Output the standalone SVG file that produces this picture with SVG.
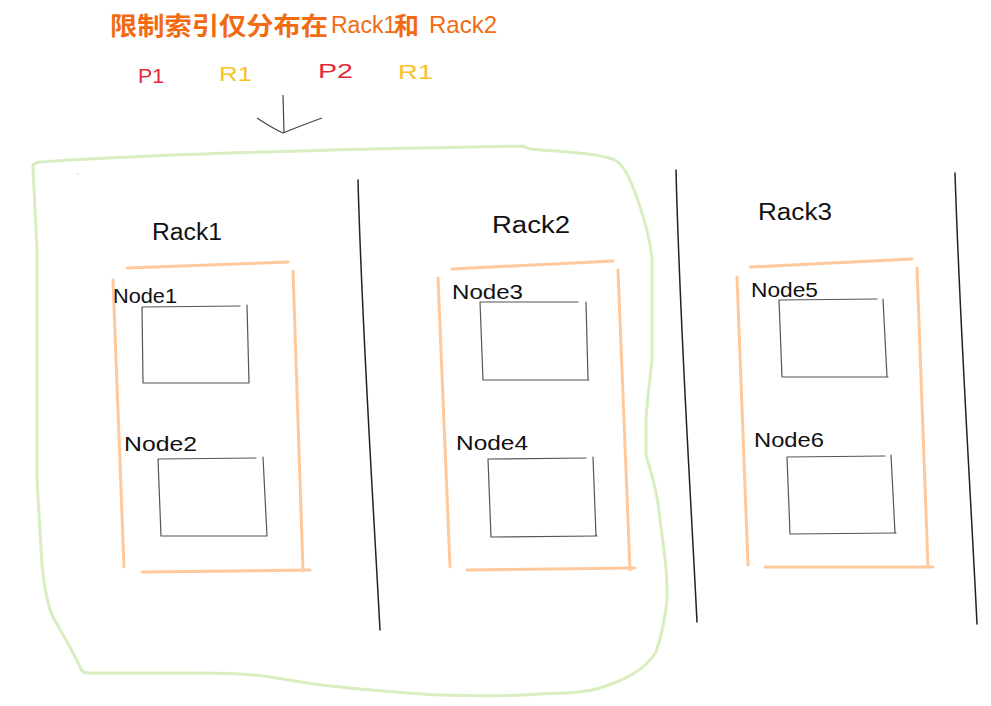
<svg xmlns="http://www.w3.org/2000/svg" width="991" height="706" viewBox="0 0 991 706">
<style>
.hand{font-family:"Liberation Sans","Noto Sans",sans-serif;fill:#111;}
.rack{stroke:#ffc393;stroke-width:3;fill:none;stroke-linecap:round;stroke-opacity:0.9}
.node{stroke:#555;stroke-width:1.2;fill:none;stroke-linecap:round}
.div{stroke:#222;stroke-width:1.5;fill:none;stroke-linecap:round}
.title{font-family:"Noto Sans CJK SC","Liberation Sans",sans-serif;fill:#f26b12;}
.lat{font-family:"Liberation Sans","Noto Sans",sans-serif;font-weight:normal;}
</style>
<rect width="991" height="706" fill="#fff"/>
<g id="title">
<text class="title" y="35" font-size="25" font-weight="bold"><tspan x="110" textLength="218" lengthAdjust="spacingAndGlyphs">限制索引仅分布在</tspan><tspan class="lat" x="331" y="33" font-size="23">Rack1</tspan><tspan x="394" y="35">和</tspan><tspan class="lat" x="429" y="33" font-size="24">Rack2</tspan></text>
</g>
<g id="labels" font-family="Liberation Sans, sans-serif" font-size="20">
<text x="138" y="83" fill="#e3283c" textLength="26" lengthAdjust="spacingAndGlyphs">P1</text>
<text x="219" y="81" fill="#f7c22a" textLength="33" lengthAdjust="spacingAndGlyphs">R1</text>
<text x="318" y="78" fill="#e3283c" textLength="35" lengthAdjust="spacingAndGlyphs">P2</text>
<text x="398" y="79" fill="#f7c22a" textLength="35" lengthAdjust="spacingAndGlyphs">R1</text>
</g>
<g id="connectors">
<path d="M283,95 L284,133" stroke="#444" stroke-width="1.2" fill="none"/>
<path d="M257,118 Q272,128 283,133 Q300,126 322,118" stroke="#444" stroke-width="1.2" fill="none"/>
</g>
<g id="group-rack1-rack2">
<path d="M33,168 Q32,163 40,162 C120,156 300,150 523,146 L530,149 C570,152 600,154 615,160 Q625,166 632,185 C642,210 650,235 652,260 L652,360 C650,380 647,400 646,420 L646,455 C652,475 658,495 660,520 C664,550 668,575 667,600 C665,620 660,640 656,652 C645,670 625,680 600,688 C580,694 560,693 540,694 C500,697 470,696 440,695 C400,693 370,690 340,687 C310,684 290,680 270,677 C250,674 235,673 200,673 L88,673 Q82,673 80,667 C70,645 60,630 52,615 C46,600 44,585 42,565 L37,480 L37,250 Q35,210 33,168 Z" fill="none" stroke="#d8edc0" stroke-width="3"/>
<circle cx="78" cy="174" r="1" fill="#d8edc0"/>
</g>
<g id="dividers">
<path class="div" d="M358,180 C362,330 372,480 380,630"/>
<path class="div" d="M676,170 C680,330 690,480 697,622"/>
<path class="div" d="M955,173 C960,330 970,480 977,624"/>
</g>
<g id="rack1">
<text class="hand" x="152" y="240" font-size="23" textLength="70" lengthAdjust="spacingAndGlyphs">Rack1</text>
<path class="rack" d="M127,268 L288,262 M113,280 L124,567 M293,271 L303,571 M142,572 L310,570"/>
</g>
<g id="rack2">
<text class="hand" x="492" y="233" font-size="23" textLength="78" lengthAdjust="spacingAndGlyphs">Rack2</text>
<path class="rack" d="M452,269 L613,261 M438,278 L450,567 M618,270 L630,570 M467,570 L635,568"/>
</g>
<g id="rack3">
<text class="hand" x="758" y="220" font-size="23" textLength="74" lengthAdjust="spacingAndGlyphs">Rack3</text>
<path class="rack" d="M750,267 L912,259 M737,277 L748,565 M917,268 L928,567 M765,567 L933,567"/>
</g>
<g id="node1">
<text class="hand" x="113" y="303" font-size="21" textLength="64" lengthAdjust="spacingAndGlyphs">Node1</text>
<path class="node" d="M142,307 L240,306 M247,305 L249,383 M143,383 L249,383 M142,307 L143,383"/>
</g>
<g id="node2">
<text class="hand" x="124" y="451" font-size="21" textLength="73" lengthAdjust="spacingAndGlyphs">Node2</text>
<path class="node" d="M158,459 L256,458 M263,457 L267,536 M162,536 L267,536 M158,459 L161,536"/>
</g>
<g id="node3">
<text class="hand" x="452" y="299" font-size="21" textLength="71" lengthAdjust="spacingAndGlyphs">Node3</text>
<path class="node" d="M480,302 L578,302 M586,302 L588,380 M483,380 L589,380 M480,302 L483,380"/>
</g>
<g id="node4">
<text class="hand" x="456" y="450" font-size="21" textLength="72" lengthAdjust="spacingAndGlyphs">Node4</text>
<path class="node" d="M488,459 L586,458 M593,457 L596,536 M491,537 L597,536 M488,459 L491,537"/>
</g>
<g id="node5">
<text class="hand" x="751" y="297" font-size="21" textLength="67" lengthAdjust="spacingAndGlyphs">Node5</text>
<path class="node" d="M779,300 L877,299 M883,299 L887,377 M782,377 L888,377 M779,300 L782,377"/>
</g>
<g id="node6">
<text class="hand" x="754" y="447" font-size="21" textLength="70" lengthAdjust="spacingAndGlyphs">Node6</text>
<path class="node" d="M787,457 L885,456 M891,455 L895,533 M790,534 L896,533 M787,457 L790,534"/>
</g>
</svg>
